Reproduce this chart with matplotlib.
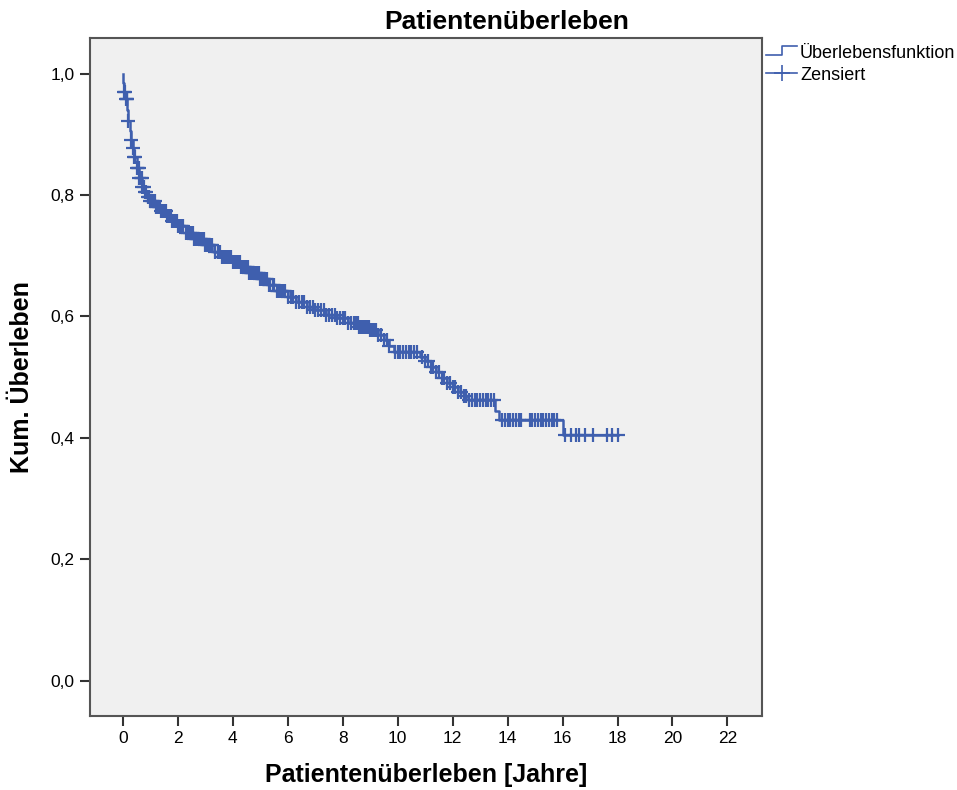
import numpy as np
import matplotlib
matplotlib.use('Agg')
import matplotlib.pyplot as plt
from matplotlib.lines import Line2D

plt.rcParams['font.family'] = ['Liberation Sans', 'DejaVu Sans']

# step function (event times and survival after each event)
times = [0, 0.02, 0.05, 0.1, 0.15, 0.2, 0.25, 0.3, 0.35, 0.4, 0.5, 0.6, 0.7, 0.8,
         0.9, 1.0, 1.2, 1.4, 1.6, 1.8, 2.0, 2.3, 2.6, 3.0, 3.3, 3.6, 4.0, 4.3,
         4.6, 5.0, 5.3, 5.6, 6.0, 6.3, 6.7, 7.0, 7.4, 7.8, 8.2, 8.6, 9.0, 9.3,
         9.5, 9.7, 9.85, 10.8, 11.0, 11.2, 11.4, 11.6, 11.8, 12.0, 12.2, 12.4,
         12.55, 13.55, 13.7, 16.0]
surv = [1.0, 0.985, 0.97, 0.958, 0.94, 0.922, 0.905, 0.89, 0.877, 0.862, 0.845,
        0.828, 0.814, 0.805, 0.797, 0.79, 0.781, 0.774, 0.766, 0.757, 0.749,
        0.738, 0.728, 0.717, 0.707, 0.698, 0.689, 0.681, 0.672, 0.662, 0.652,
        0.642, 0.632, 0.624, 0.616, 0.61, 0.603, 0.597, 0.59, 0.583, 0.577,
        0.569, 0.561, 0.552, 0.542, 0.534, 0.526, 0.517, 0.508, 0.499, 0.491,
        0.484, 0.476, 0.469, 0.463, 0.445, 0.430, 0.404]

# censored observations (years)
censored = [0.05, 0.08, 0.12, 0.13, 0.14, 0.2, 0.3, 0.38, 0.42, 0.45, 0.5, 0.55,
            0.58, 0.6, 0.65, 0.68, 0.7, 0.75, 0.8, 0.85, 0.9, 0.95, 1.0, 1.05,
            1.1, 1.15, 1.2, 1.25, 1.3, 1.35, 1.4, 1.45, 1.5, 1.55, 1.6, 1.65,
            1.7, 1.75, 1.8, 1.85, 1.9, 1.95, 2.0, 2.05, 2.1, 2.15, 2.2, 2.3,
            2.35, 2.45, 2.5, 2.55, 2.6, 2.65, 2.7, 2.75, 2.8, 2.85, 2.9, 2.95,
            3.0, 3.05, 3.1, 3.15, 3.2, 3.25, 3.35, 3.45, 3.5, 3.55, 3.6, 3.65,
            3.7, 3.75, 3.8, 3.85, 3.9, 3.95, 4.0, 4.05, 4.1, 4.15, 4.2, 4.25,
            4.3, 4.35, 4.4, 4.45, 4.5, 4.55, 4.6, 4.65, 4.7, 4.75, 4.8, 4.85,
            4.9, 4.95, 5.0, 5.05, 5.1, 5.15, 5.2, 5.25, 5.3, 5.35, 5.45, 5.5,
            5.6, 5.65, 5.7, 5.75, 5.8, 5.85, 5.9, 6.0, 6.1, 6.2, 6.3, 6.4, 6.5,
            6.6, 6.7, 6.8, 6.9, 7.0, 7.1, 7.2, 7.3, 7.4, 7.5, 7.6, 7.7, 7.8,
            7.9, 8.0, 8.1, 8.2, 8.3, 8.4, 8.5, 8.55, 8.6, 8.65, 8.7, 8.75, 8.8,
            8.85, 8.9, 8.95, 9.0, 9.05, 9.1, 9.15, 9.2, 9.3, 9.4, 9.5, 9.6, 9.7,
            9.9, 10.0, 10.1, 10.2, 10.3, 10.4, 10.5, 10.6, 10.7, 10.9, 11.0,
            11.1, 11.2, 11.3, 11.4, 11.5, 11.6, 11.7, 11.8, 11.9, 12.0, 12.1,
            12.2, 12.3, 12.4, 12.5, 12.6, 12.7, 12.8, 12.9, 13.0, 13.1, 13.2,
            13.3, 13.4, 13.5, 13.8, 13.9, 14.0, 14.1, 14.2, 14.3, 14.4, 14.5,
            14.8, 14.9, 15.0, 15.1, 15.2, 15.3, 15.4, 15.5, 15.6, 15.7, 15.8,
            16.1, 16.3, 16.5, 16.6, 16.8, 17.1, 17.6, 17.8, 18.0]

xticks = list(range(0, 23, 2))
yticks = [0.0, 0.2, 0.4, 0.6, 0.8, 1.0]

col = '#3f5fae'

fig = plt.figure(figsize=(9.57, 7.90), dpi=100)
ax = fig.add_axes([0.094, 0.094, 0.702, 0.858])
ax.set_facecolor('#f0f0f0')

t = np.array(times)
s = np.array(surv)
c = np.array(censored)
t_line = np.append(t, c.max())
s_line = np.append(s, s[-1])
ax.step(t_line, s_line, where='post', color=col, lw=1.8)

idx = np.searchsorted(t, c, side='right') - 1
ax.plot(c, s[idx], '+', color=col, ms=10, mew=1.6)

ax.set_xlim(-1.2, 23.25)
ax.set_ylim(-0.058, 1.059)
ax.set_xticks(xticks)
ax.set_yticks(yticks)
ax.set_yticklabels([f'{v:.1f}'.replace('.', ',') for v in yticks])
ax.tick_params(direction='out', length=7, width=1.5, labelsize=12.5, color='#333333', pad=4)
for sp in ax.spines.values():
    sp.set_color('#555555')
    sp.set_linewidth(1.5)

ax.set_xlabel('Patientenüberleben [Jahre]', fontsize=18, fontweight='bold', labelpad=12)
ax.set_ylabel('Kum. Überleben', fontsize=18, fontweight='bold', labelpad=12)
fig.text(0.529, 0.972, 'Patientenüberleben', fontsize=19, fontweight='bold',
         ha='center', va='center')

# legend (drawn in figure pixels converted to fraction)
W, H = 957, 790
def fx(px): return px / W
def fy(py): return 1 - py / H
fig.add_artist(Line2D([fx(766), fx(782), fx(782), fx(797)],
                      [fy(55), fy(55), fy(46), fy(46)], color=col, lw=1.2))
fig.add_artist(Line2D([fx(766), fx(797)], [fy(73), fy(73)], color=col, lw=1.2))
fig.add_artist(Line2D([fx(781.5)], [fy(73)], marker='+', color=col, ms=12, mew=1.2))
fig.text(fx(800), fy(53), 'Überlebensfunktion', fontsize=13, va='center')
fig.text(fx(800), fy(75), 'Zensiert', fontsize=13, va='center')

fig.savefig('out.png', dpi=100)
